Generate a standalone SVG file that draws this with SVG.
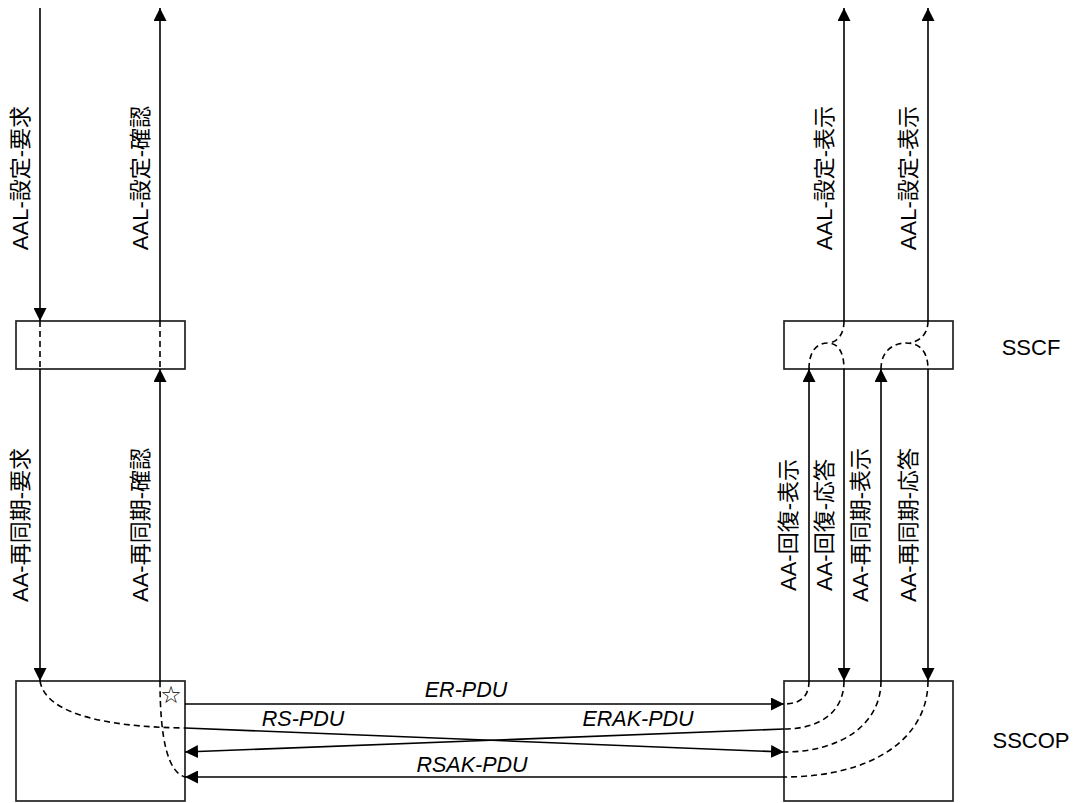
<svg xmlns="http://www.w3.org/2000/svg" width="1079" height="803" viewBox="0 0 1079 803">
<style>
.box{fill:#fff;stroke:#222;stroke-width:1.7}
.ln{fill:none;stroke:#000;stroke-width:1.6}
.ar{fill:none;stroke:#000;stroke-width:1.6;marker-end:url(#ah)}
.ds{fill:none;stroke:#000;stroke-width:1.6;stroke-dasharray:6 4}
.t{font-family:"Liberation Sans","Noto Sans CJK JP",sans-serif;font-size:22px;fill:#000}
.vt{font-family:"Liberation Sans","Noto Sans CJK JP",sans-serif;font-size:22px;fill:#000;text-anchor:middle}
.pdu{font-family:"Liberation Sans",sans-serif;font-size:21.5px;font-style:italic;fill:#000;text-anchor:middle}
.star{font-family:"DejaVu Sans",sans-serif;font-size:24px;fill:#000;text-anchor:middle}
</style>
<defs>
<marker id="ah" markerUnits="userSpaceOnUse" markerWidth="14" markerHeight="13" refX="13" refY="6.5" orient="auto">
<path d="M0,0 L13,6.5 L0,13 Z" fill="#000"/>
</marker>
</defs>

<g id="sscf-left">
<rect class="box" x="16" y="321" width="169" height="48"/>
</g>
<g id="sscf-right">
<rect class="box" x="784" y="321" width="169" height="48"/>
</g>
<g id="sscop-left">
<rect class="box" x="16" y="681" width="169" height="120"/>
<text class="star" x="171" y="703">☆</text>
</g>
<g id="sscop-right">
<rect class="box" x="784" y="681" width="169" height="120"/>
</g>
<g id="layer-labels">
<text class="t" x="1031" y="355" text-anchor="middle">SSCF</text>
<text class="t" x="1031" y="748" text-anchor="middle">SSCOP</text>
</g>

<g id="connectors">
<path class="ar" d="M40,8 V321"/>
<path class="ar" d="M160,321 V8"/>
<path class="ar" d="M40,369 V681"/>
<path class="ar" d="M160,681 V369"/>
<path class="ds" d="M40,321 V369"/>
<path class="ds" d="M160,321 V369"/>
<path class="ds" d="M40,681 C45,712 100,727 185,728"/>
<path class="ds" d="M160,681 C160,740 168,772 185,777"/>
<path class="ar" d="M844,321 V8"/>
<path class="ar" d="M928,321 V8"/>
<path class="ar" d="M809,681 V369"/>
<path class="ar" d="M844,369 V681"/>
<path class="ar" d="M881,681 V369"/>
<path class="ar" d="M928,369 V681"/>
<path class="ds" d="M809,369 C809,352 816,343 828,343 C838,343 844,352 844,369"/>
<path class="ds" d="M844,321 C844,334 838,341 830,343"/>
<path class="ds" d="M881,369 C881,352 892,343 906,343 C920,343 928,352 928,369"/>
<path class="ds" d="M928,321 C928,334 920,341 910,343"/>
<path class="ds" d="M809,681 C809,697 800,704 784,704"/>
<path class="ds" d="M844,681 C844,712 820,729 784,729"/>
<path class="ds" d="M881,681 C881,725 840,752 784,752"/>
<path class="ds" d="M928,681 C928,740 870,777 784,777"/>
<path class="ar" d="M185,704 L784,704"/>
<path class="ar" d="M185,728 L784,752"/>
<path class="ar" d="M784,729 L185,752"/>
<path class="ar" d="M784,777 L185,777"/>
</g>

<g id="connector-labels">
<text class="pdu" x="466" y="697">ER-PDU</text>
<text class="pdu" x="303" y="726">RS-PDU</text>
<text class="pdu" x="638" y="726">ERAK-PDU</text>
<text class="pdu" x="472" y="772">RSAK-PDU</text>
<text class="vt" transform="translate(28,178) rotate(-90)">AAL-設定-要求</text>
<text class="vt" transform="translate(148,178) rotate(-90)">AAL-設定-確認</text>
<text class="vt" transform="translate(832,178) rotate(-90)">AAL-設定-表示</text>
<text class="vt" transform="translate(916,178) rotate(-90)">AAL-設定-表示</text>
<text class="vt" transform="translate(28,525) rotate(-90)">AA-再同期-要求</text>
<text class="vt" transform="translate(148,525) rotate(-90)">AA-再同期-確認</text>
<text class="vt" transform="translate(796,525) rotate(-90)">AA-回復-表示</text>
<text class="vt" transform="translate(832,525) rotate(-90)">AA-回復-応答</text>
<text class="vt" transform="translate(868,525) rotate(-90)">AA-再同期-表示</text>
<text class="vt" transform="translate(916,525) rotate(-90)">AA-再同期-応答</text>
</g>
</svg>
